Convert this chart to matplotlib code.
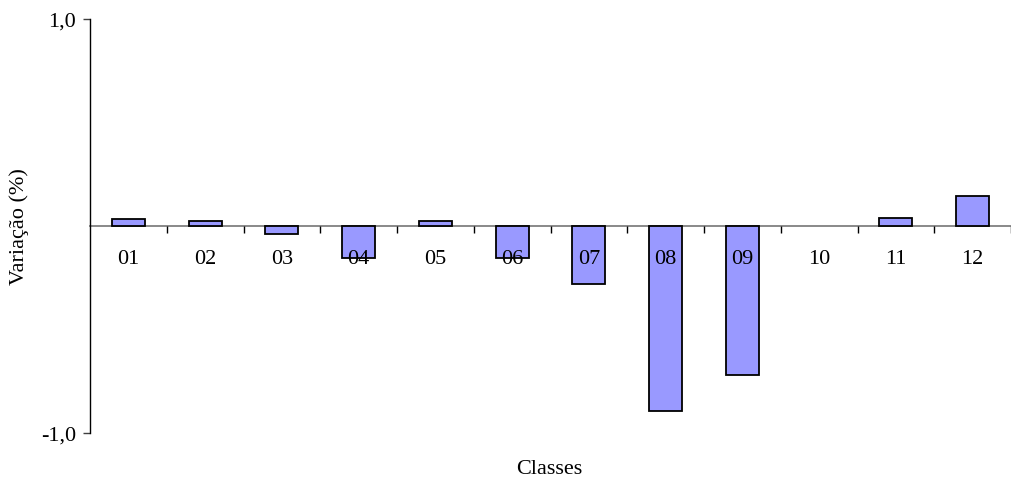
import matplotlib
matplotlib.use("Agg")
import matplotlib.pyplot as plt
import numpy as np

categories = ["01", "02", "03", "04", "05", "06", "07", "08", "09", "10", "11", "12"]
values = [0.032, 0.023, -0.04, -0.157, 0.023, -0.157, -0.283, -0.894, -0.722, 0.0, 0.039, 0.142]
ytick_vals = [-1.0, 1.0]
ytick_labels = ["-1,0", "1,0"]

plt.rcParams['font.family'] = ['Liberation Serif', 'DejaVu Serif']

fig = plt.figure(figsize=(10.11, 4.85), dpi=100)
ax = fig.add_axes([90/1011, 51/485, 1 - 90/1011, 414.5/485])

x = np.arange(len(categories))
edge = ["black" if v != 0 else "none" for v in values]
ax.bar(x, values, width=0.43, color="#9999FF", edgecolor=edge, linewidth=1.3, zorder=1)

ax.set_ylim(-1, 1)
ax.set_xlim(-0.5, 11.415)

ax.spines['top'].set_visible(False)
ax.spines['right'].set_visible(False)
ax.spines['bottom'].set_position(('data', 0))
ax.spines['bottom'].set_color('#808080')
ax.spines['bottom'].set_linewidth(1.3)
ax.spines['bottom'].set_zorder(0.5)
ax.spines['left'].set_color('black')
ax.spines['left'].set_linewidth(1.0)

ax.set_yticks(ytick_vals)
ax.set_yticklabels(ytick_labels, fontsize=16)
ax.tick_params(axis='y', direction='out', length=5, width=1, pad=5, color='#404040')

ax.set_xticks(x)
ax.set_xticklabels(categories, fontsize=16)
ax.tick_params(axis='x', which='major', length=0, pad=17)
ax.set_xticks(np.arange(len(categories)) + 0.5, minor=True)
ax.tick_params(axis='x', which='minor', direction='out', length=5, width=1, color='black')
ax.xaxis.set_zorder(3)

ax.set_ylabel("Variação (%)", fontsize=16)
ax.yaxis.set_label_coords(-0.066, 0.5)
fig.text(549/1011, 1 - 470/485, "Classes", fontsize=16, ha='center', va='center')

fig.savefig("out.png", dpi=100)
